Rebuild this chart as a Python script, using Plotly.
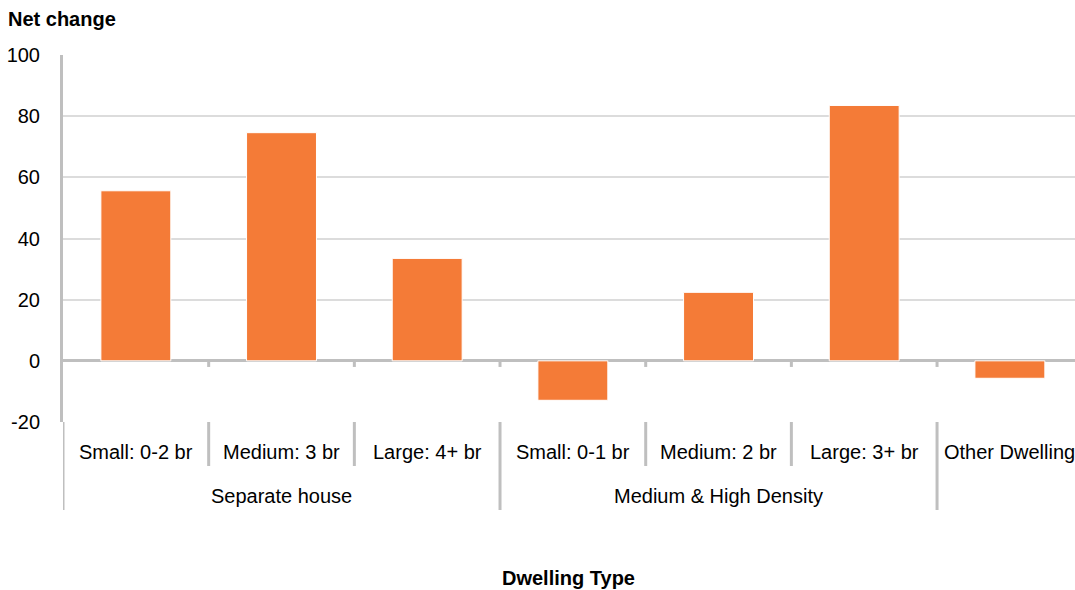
import plotly.graph_objects as go

# Net change in dwellings by type
categories = ["Small: 0-2 br", "Medium: 3 br", "Large: 4+ br",
              "Small: 0-1 br", "Medium: 2 br", "Large: 3+ br", "Other Dwelling"]
groups = ["Separate house", "Medium & High Density", ""]
group_sizes = [3, 3, 1]
net_change = [55.6, 74.6, 33.5, -12.9, 22.4, 83.5, -5.7]
y_ticks = [-20, 0, 20, 40, 60, 80, 100]

BAR = "#F47B37"
AXIS = "#BFBFBF"
GRID = "#DCDCDC"
SANS = "Liberation Sans, Arial, sans-serif"
TXT = 20

W, H = 1075, 590
M_L, M_T, M_B = 63, 55, 168
plot_h = H - M_T - M_B
plot_w = W - M_L

x_pos = list(range(len(categories)))
x_range = [-0.5, 6.447]


def py(pixels_below):
    """Paper y for a distance in pixels below the plot bottom."""
    return -pixels_below / plot_h


fig = go.Figure(go.Bar(
    x=x_pos, y=net_change, width=0.48,
    marker=dict(color=BAR, line=dict(color="white", width=1)),
    hoverinfo="skip",
))

shapes = []
annotations = []

# small ticks under the zero line at category boundaries
for k in range(len(categories) - 1):
    shapes.append(dict(type="line", xref="x", yref="y", x0=k + 0.5, x1=k + 0.5,
                       y0=0, y1=-2.0, line=dict(color=AXIS, width=3)))

# category row separators and group separators below the plot
bounds = []
start = 0
for size in group_sizes:
    bounds.append(start - 0.5)
    start += size
group_edges = set(bounds)
for k in range(len(categories)):
    b = k - 0.5
    bottom = py(88) if b in group_edges else py(44)
    shapes.append(dict(type="line", xref="x", yref="paper", x0=b, x1=b,
                       y0=0, y1=bottom, line=dict(color=AXIS, width=3)))

# category labels
for k, name in enumerate(categories):
    annotations.append(dict(x=k, y=py(30), xref="x", yref="paper", text=name,
                            showarrow=False, xanchor="center", yanchor="middle",
                            font=dict(family=SANS, size=TXT, color="black")))

# group labels
start = 0
for name, size in zip(groups, group_sizes):
    if name:
        annotations.append(dict(x=start + (size - 1) / 2, y=py(74), xref="x",
                                yref="paper", text=name, showarrow=False,
                                xanchor="center", yanchor="middle",
                                font=dict(family=SANS, size=TXT, color="black")))
    start += size

# axis titles
annotations.append(dict(x=(6 - M_L) / plot_w, y=1 + (M_T - 19) / plot_h,
                        xref="paper", yref="paper", text="<b>Net change</b>",
                        showarrow=False, xanchor="left", yanchor="middle",
                        font=dict(family=SANS, size=20, color="black")))
annotations.append(dict(x=(568 - M_L) / plot_w, y=-(578 - (H - M_B)) / plot_h,
                        xref="paper", yref="paper", text="<b>Dwelling Type</b>",
                        showarrow=False, xanchor="center", yanchor="middle",
                        font=dict(family=SANS, size=20, color="black")))

fig.update_layout(
    width=W, height=H,
    margin=dict(l=M_L, r=0, t=M_T, b=M_B, pad=0),
    paper_bgcolor="white", plot_bgcolor="white",
    showlegend=False,
    bargap=0.52,
    shapes=shapes,
    annotations=annotations,
    xaxis=dict(range=x_range, showticklabels=False, showgrid=False,
               zeroline=False, showline=False, ticks=""),
    yaxis=dict(range=[-20, 100], tickvals=y_ticks, ticktext=[str(v) for v in y_ticks],
               showgrid=True, gridcolor=GRID, gridwidth=1.5,
               zeroline=True, zerolinecolor=AXIS, zerolinewidth=3,
               showline=True, linecolor=AXIS, linewidth=3,
               ticks="", ticklabelstandoff=16,
               tickfont=dict(family=SANS, size=TXT, color="black")),
)

fig.write_html("out.html")
